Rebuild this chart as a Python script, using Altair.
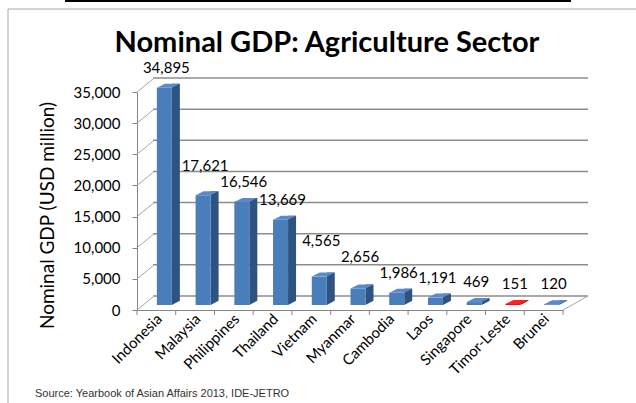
import altair as alt
import pandas as pd

countries = ["Indonesia", "Malaysia", "Philippines", "Thailand", "Vietnam", "Myanmar",
             "Cambodia", "Laos", "Singapore", "Timor-Leste", "Brunei"]
gdp = [34895, 17621, 16546, 13669, 4565, 2656, 1986, 1191, 469, 151, 120]
y_ticks = [0, 5000, 10000, 15000, 20000, 25000, 30000, 35000]
highlight = "Timor-Leste"
chart_title = "Nominal GDP: Agriculture Sector"
y_title = "Nominal GDP (USD million)"
source_note = "Source: Yearbook of Asian Affairs 2013, IDE-JETRO"

df = pd.DataFrame({"country": countries, "gdp": gdp})
grid_df = pd.DataFrame({"v": y_ticks})
note_df = pd.DataFrame({"t": [source_note], "title": [chart_title]})

W, H = 426, 218
GRAY = "#868686"

xs = alt.Scale(domain=countries, paddingInner=0, paddingOuter=0)
ys = alt.Scale(domain=[0, 35000], nice=False)

xaxis = alt.Axis(title=None, labelAngle=315, labelAlign="right", labelBaseline="middle",
                 labelPadding=6, labelOffset=3, ticks=False, domainColor=GRAY,
                 labelFont="Lato", labelFontSize=15, labelColor="black")
yaxis = alt.Axis(title=y_title, values=y_ticks, format=",.0f", grid=False, tickSize=5,
                 tickColor=GRAY, domainColor=GRAY, labelPadding=12, labelFont="Lato",
                 labelFontSize=15, labelColor="black", titleFont="Lato", titleFontSize=19,
                 titleFontWeight="normal", titleColor="black", titleX=-84, titleY=123,
                 titleAngle=270, titleAlign="center", titleBaseline="alphabetic")

X = alt.X("country:N", scale=xs, sort=countries, axis=xaxis)
Y = alt.Y("gdp:Q", scale=ys, axis=yaxis, stack=None)
YV = alt.Y("v:Q", scale=ys, axis=yaxis)
Y0 = alt.YDatum(0, scale=ys, axis=yaxis)

is_hl = alt.datum.country == highlight

grid_base = alt.Chart(grid_df)

back_grid = grid_base.mark_rule(color="#8C8C8C", strokeWidth=1.5, yOffset=-14).encode(
    y=YV, x=alt.value(16), x2=alt.value(451))
left_wall = grid_base.mark_rule(color="#A6A6A6", strokeWidth=1, y2Offset=-13).encode(
    y=YV, y2=alt.Y2("v:Q"), x=alt.value(0), x2=alt.value(16))

note_base = alt.Chart(note_df)
right_floor = note_base.mark_rule(color="#A6A6A6", strokeWidth=1).encode(
    y=alt.value(H), y2=alt.value(H - 14), x=alt.value(W), x2=alt.value(W + 25))

base = alt.Chart(df)

x_ticks = base.mark_rule(color=GRAY).encode(
    x=alt.X("country:N", scale=xs, sort=countries, axis=xaxis, bandPosition=0),
    y=alt.value(H), y2=alt.value(H + 5))
x_tick_end = note_base.mark_rule(color=GRAY).encode(
    x=alt.value(W), y=alt.value(H), y2=alt.value(H + 5))

side = base.mark_bar(size=8, xOffset=19.5, yOffset=-9, y2Offset=-5).encode(
    x=X, y=Y, y2=alt.datum(0),
    color=alt.condition(is_hl, alt.value("#B00000"), alt.value("#2F5380")))
front = base.mark_bar(size=15, xOffset=8, yOffset=-5, y2Offset=-5).encode(
    x=X, y=Y, y2=alt.datum(0),
    color=alt.condition(is_hl, alt.value("#F00000"), alt.value("#4A7EBB")))
top = base.mark_point(shape="M0.5,0 L15.5,0 L23.5,-4 L8.5,-4 Z", size=4, filled=True,
                      opacity=1, strokeWidth=0, yOffset=-5).encode(
    x=X, y=Y,
    color=alt.condition(is_hl, alt.value("#FF2020"), alt.value("#5A8BC8")))
cover = base.mark_point(shape="M15.5,-5 L24,-5 L24,-9.5 Z", size=4, filled=True,
                        opacity=1, strokeWidth=0, color="white").encode(
    x=X, y=Y0)

# labels are lifted above the following bar's label when they would collide (two passes)
labels = base.transform_window(
    next_gdp="lead(gdp)"
).transform_calculate(
    lv1="datum.gdp > 2000 && isValid(datum.next_gdp) ? max(datum.gdp, datum.next_gdp + 2500) : datum.gdp"
).transform_window(
    next_lv="lead(lv1)"
).transform_calculate(
    label_v="datum.gdp > 2000 && isValid(datum.next_lv) ? max(datum.lv1, datum.next_lv + 2500) : datum.lv1"
).mark_text(dx=10, dy=-20, font="Lato", fontSize=15, baseline="alphabetic",
            align="center", color="black").encode(
    x=X, y=alt.Y("label_v:Q", scale=ys, axis=yaxis),
    text=alt.Text("gdp:Q", format=","))

frame_left = note_base.mark_rule(color="#A6A6A6").encode(
    x=alt.value(-129), y=alt.value(-83), y2=alt.value(311))
frame_top = note_base.mark_rule(color="#A6A6A6").encode(
    x=alt.value(-129), x2=alt.value(499), y=alt.value(-83))
top_line = note_base.mark_rule(color="black", strokeWidth=2).encode(
    x=alt.value(-72), x2=alt.value(434), y=alt.value(-91))
title = note_base.mark_text(align="center", baseline="alphabetic", font="Lato",
                            fontSize=29, fontWeight="bold", color="black").encode(
    x=alt.value(190), y=alt.value(-40), text="title:N")
source = note_base.mark_text(align="left", baseline="alphabetic", font="Liberation Sans",
                             fontSize=11, color="#333333").encode(
    x=alt.value(-102), y=alt.value(305), text="t:N")

chart = alt.layer(
    frame_left, frame_top, top_line,
    back_grid, left_wall, right_floor, x_ticks, x_tick_end,
    side, front, top, cover, labels, title, source
).properties(
    width=W, height=H,
    padding={"left": 137, "top": 92, "right": 73, "bottom": 93},
    autosize=alt.AutoSizeParams(type="none"),
    background="white",
).configure_view(stroke=None)

chart.save("out.html", embed_options={"renderer": "svg", "actions": False})
